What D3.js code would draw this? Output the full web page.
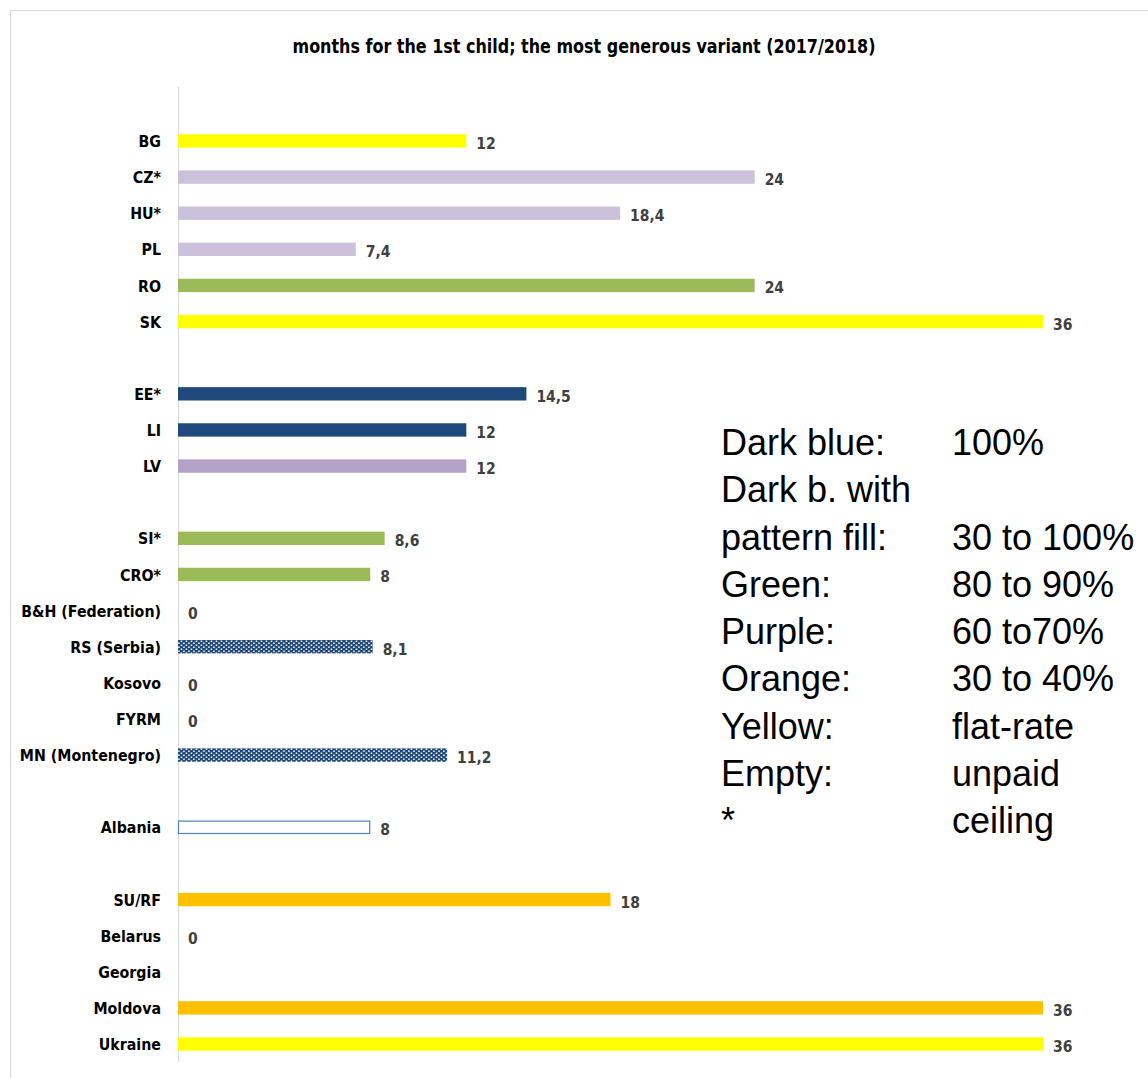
<!DOCTYPE html>
<html>
<head>
<meta charset="utf-8">
<script src="https://cdn.jsdelivr.net/npm/d3@7"></script>
<style>
  html, body { margin: 0; padding: 0; background: #fff; }
  svg { display: block; }
</style>
</head>
<body>
<svg id="chart" width="1148" height="1078"></svg>
<script>
// Country rows, top to bottom; empty strings are spacer rows between regional groups
const countries = [
  "BG", "CZ*", "HU*", "PL", "RO", "SK", "",
  "EE*", "LI", "LV", "",
  "SI*", "CRO*", "B&H (Federation)", "RS (Serbia)", "Kosovo", "FYRM", "MN (Montenegro)", "",
  "Albania", "",
  "SU/RF", "Belarus", "Georgia", "Moldova", "Ukraine"
];
// Months of leave for the 1st child (null = no bar, no label)
const months = [
  12, 24, 18.4, 7.4, 24, 36, null,
  14.5, 12, 12, null,
  8.6, 8, 0, 8.1, 0, 0, 11.2, null,
  8, null,
  18, 0, null, 36, 36
];
// Benefit type of each row, coloured by the legend on the right
const payType = [
  "flat", "purpleLight", "purpleLight", "purpleLight", "green", "flat", null,
  "blue", "blue", "purple", null,
  "green", "green", null, "bluePattern", null, null, "bluePattern", null,
  "unpaid", null,
  "orange", null, null, "orange", "flat"
];

const legendKeys = ["Dark blue:", "Dark b. with", "pattern fill:", "Green:", "Purple:", "Orange:", "Yellow:", "Empty:", "*"];
const legendValues = ["100%", "", "30 to 100%", "80 to 90%", "60 to70%", "30 to 40%", "flat-rate", "unpaid", "ceiling"];

const fills = {
  flat: "#ffff00",
  purpleLight: "#ccc1da",
  purple: "#b3a2c7",
  green: "#9bbb59",
  blue: "#1f497d",
  bluePattern: "url(#dots)",
  orange: "#ffc000",
  unpaid: "#ffffff"
};

const svg = d3.select("#chart");
const labelFont = "'Liberation Sans Narrow', 'DejaVu Sans Condensed', Arial, sans-serif";

// dotted dark-blue pattern
const defs = svg.append("defs");
const pat = defs.append("pattern")
  .attr("id", "dots")
  .attr("patternUnits", "userSpaceOnUse")
  .attr("width", 5).attr("height", 4);
pat.append("rect").attr("width", 5).attr("height", 4).attr("fill", "#1f497d");
pat.append("rect").attr("x", 0.7).attr("y", 0.5).attr("width", 1.5).attr("height", 1.5).attr("fill", "#ffffff");
pat.append("rect").attr("x", 3.2).attr("y", 2.5).attr("width", 1.5).attr("height", 1.5).attr("fill", "#ffffff");

// chart frame
svg.append("rect")
  .attr("x", 10.5).attr("y", 10.5)
  .attr("width", 1200).attr("height", 1200)
  .attr("fill", "none").attr("stroke", "#d9d9d9").attr("stroke-width", 1);

// title
svg.append("text")
  .attr("x", 584).attr("y", 53)
  .attr("text-anchor", "middle")
  .attr("font-family", labelFont)
  .attr("font-weight", "bold")
  .attr("font-size", 20)
  .attr("textLength", 583)
  .attr("lengthAdjust", "spacingAndGlyphs")
  .attr("fill", "#000")
  .text("months for the 1st child; the most generous variant (2017/2018)");

const x = d3.scaleLinear().domain([0, 36]).range([178, 1043]);
const y = d3.scaleBand()
  .domain(d3.range(countries.length))
  .range([122.9, 1062.1])
  .paddingInner(0.63)
  .paddingOuter(0.315);

// category axis line
svg.append("line")
  .attr("x1", 178.5).attr("x2", 178.5)
  .attr("y1", 87).attr("y2", 1062)
  .attr("stroke", "#d9d9d9").attr("stroke-width", 1);

// category labels
const yAxis = d3.axisLeft(y).tickSize(0).tickPadding(0).tickFormat(i => countries[i]);
const gy = svg.append("g").attr("transform", "translate(161,1)").call(yAxis);
gy.select(".domain").remove();
gy.selectAll("text")
  .attr("font-family", labelFont)
  .attr("font-weight", "bold")
  .attr("font-size", 15.8)
  .attr("fill", "#000");

const rows = countries.map((c, i) => ({ i, c, v: months[i], t: payType[i] }));

// bars
svg.append("g").selectAll("rect")
  .data(rows.filter(d => d.v !== null && d.v > 0))
  .join("rect")
  .attr("x", d => x(0) + (d.t === "unpaid" ? 0.5 : 0))
  .attr("y", d => y(d.i) + (d.t === "unpaid" ? 0.5 : 0))
  .attr("width", d => x(d.v) - x(0) - (d.t === "unpaid" ? 1 : 0))
  .attr("height", d => y.bandwidth() - (d.t === "unpaid" ? 1 : 0))
  .attr("fill", d => fills[d.t])
  .attr("stroke", d => d.t === "unpaid" ? "#4f81bd" : "none")
  .attr("stroke-width", 1.2);

// value labels
const fmt = v => String(v).replace(".", ",");
svg.append("g").selectAll("text")
  .data(rows.filter(d => d.v !== null))
  .join("text")
  .attr("x", d => x(d.v) + 10)
  .attr("y", d => y(d.i) + y.bandwidth() / 2 + 8)
  .attr("font-family", labelFont)
  .attr("font-weight", "bold")
  .attr("font-size", 15.5)
  .attr("fill", "#404040")
  .text(d => fmt(d.v));

// legend
const legend = svg.append("g")
  .attr("font-family", "'Liberation Sans', Arial, sans-serif")
  .attr("font-size", 36)
  .attr("fill", "#000");
const ly = d3.scaleLinear().domain([0, legendKeys.length - 1]).range([455, 833]);
legend.selectAll("text.k")
  .data(legendKeys)
  .join("text").attr("class", "k")
  .attr("x", 721).attr("y", (d, i) => ly(i))
  .text(d => d);
legend.selectAll("text.v")
  .data(legendValues)
  .join("text").attr("class", "v")
  .attr("x", 952).attr("y", (d, i) => ly(i))
  .text(d => d);
</script>
</body>
</html>
